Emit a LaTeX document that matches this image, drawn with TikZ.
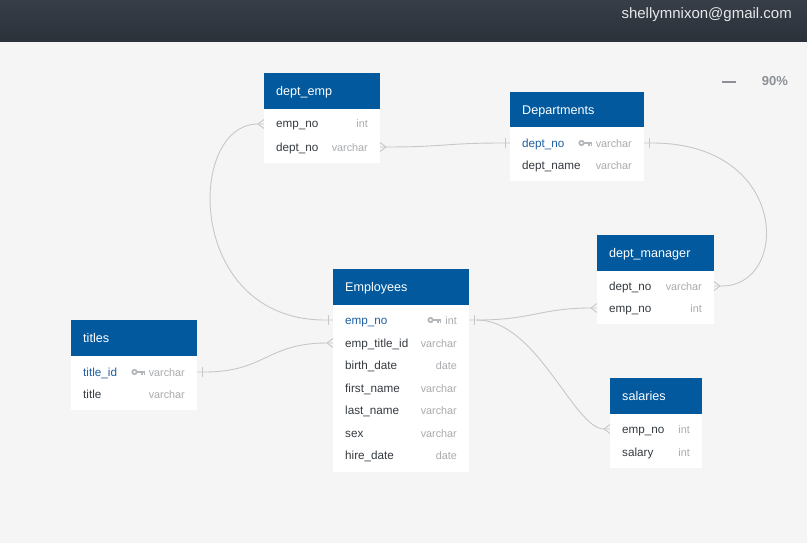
\documentclass[tikz,border=0pt]{standalone}
\usepackage{fontspec}
\setmainfont{Liberation Sans}
\usetikzlibrary{calc}
\definecolor{bg}{HTML}{F4F5F4}
\definecolor{barA}{HTML}{373E48}
\definecolor{barB}{HTML}{2B3139}
\definecolor{hdr}{HTML}{02599E}
\definecolor{fldc}{HTML}{343A40}
\definecolor{typc}{HTML}{A8ABAE}
\definecolor{pkc}{HTML}{1D5FA3}
\definecolor{linec}{HTML}{C6C8C8}
\definecolor{keyc}{HTML}{B4B7BA}
\definecolor{zoomc}{HTML}{8C9096}
\definecolor{mailc}{HTML}{E6E8EA}
\begin{document}
\begin{tikzpicture}[x=1pt,y=-1pt,
 hdrbox/.style={fill=hdr, anchor=north west, inner sep=0pt, outer sep=0pt},
 bodybox/.style={fill=white, anchor=north west, inner sep=0pt, outer sep=0pt},
 htext/.style={text=white, anchor=west, inner sep=0pt, text height=10, text depth=0.4, font=\fontsize{12.6}{14}\selectfont},
 fld/.style={text=fldc, anchor=west, inner sep=0pt, text height=8.4, text depth=0.4, font=\fontsize{11.7}{13}\selectfont},
 pk/.style={fld, text=pkc},
 typ/.style={text=typc, anchor=east, inner sep=0pt, text height=8.4, text depth=0.4, font=\fontsize{10.8}{12}\selectfont},
 conn/.style={draw=linec, line width=0.9pt},
 barR/.pic={\draw[conn] (5,-5) -- (5,5);},
 barL/.pic={\draw[conn] (-5,-5) -- (-5,5);},
 crowL/.pic={\draw[conn] (0,-4.5) -- (-6,0) -- (0,4.5);},
 crowR/.pic={\draw[conn] (0,-4.5) -- (6,0) -- (0,4.5);},
 keyicon/.pic={\draw[keyc, line width=1.7pt] (0,0) circle (2.2);
   \fill[keyc] (2.8,-1.0) rectangle (10.5,1.0);
   \fill[keyc] (6.8,0.5) rectangle (8.2,3.0);
   \fill[keyc] (9.1,0.5) rectangle (10.5,2.6);},
]
\useasboundingbox (0,0) rectangle (807,543);
\fill[bg] (0,0) rectangle (807,543);
\shade[top color=barA, bottom color=barB] (0,0) rectangle (807,42);
\node[anchor=east, inner sep=0pt, text=mailc, font=\fontsize{15}{16}\selectfont] (email) at (792,15) {shellymnixon@gmail.com};
\draw[zoomc, line width=2pt] (722,82) -- (736,82);
\node[anchor=center, inner sep=0pt, text=zoomc, font=\fontsize{13}{14}\selectfont\bfseries] (zoom) at (775,81.5) {90\%};

% dept_emp
\node[hdrbox, minimum width=116, minimum height=36] (deh) at (264,73) {};
\node[bodybox, minimum width=116, minimum height=54] (deb) at (264,109) {};
\node[htext] (det) at (276,91) {dept\_emp};
\node[fld] (de1) at (276,124) {emp\_no};
\node[typ] (de1t) at (368,124) {int};
\node[fld] (de2) at (276,147) {dept\_no};
\node[typ] (de2t) at (368,147) {varchar};

% Departments
\node[hdrbox, minimum width=134, minimum height=35] (dph) at (510,92) {};
\node[bodybox, minimum width=134, minimum height=54] (dpb) at (510,127) {};
\node[htext] (dpt) at (522,109.5) {Departments};
\node[pk] (dp1) at (522,143) {dept\_no};
\pic at (581.5,143) {keyicon};
\node[typ] (dp1t) at (632,143) {varchar};
\node[fld] (dp2) at (522,165) {dept\_name};
\node[typ] (dp2t) at (632,165) {varchar};

% dept_manager
\node[hdrbox, minimum width=117, minimum height=36] (dmh) at (597,235) {};
\node[bodybox, minimum width=117, minimum height=53] (dmb) at (597,271) {};
\node[htext] (dmt) at (609,253) {dept\_manager};
\node[fld] (dm1) at (609,286) {dept\_no};
\node[typ] (dm1t) at (702,286) {varchar};
\node[fld] (dm2) at (609,308) {emp\_no};
\node[typ] (dm2t) at (702,308) {int};

% Employees
\node[hdrbox, minimum width=136, minimum height=36] (emh) at (333,269) {};
\node[bodybox, minimum width=136, minimum height=167] (emb) at (333,305) {};
\node[htext] (emt) at (345,287) {Employees};
\node[pk] (em1) at (345,320) {emp\_no};
\pic at (430.5,320) {keyicon};
\node[typ] (em1t) at (457,320) {int};
\node[fld] (em2) at (345,343) {emp\_title\_id};
\node[typ] (em2t) at (457,343) {varchar};
\node[fld] (em3) at (345,365) {birth\_date};
\node[typ] (em3t) at (457,365) {date};
\node[fld] (em4) at (345,388) {first\_name};
\node[typ] (em4t) at (457,388) {varchar};
\node[fld] (em5) at (345,410) {last\_name};
\node[typ] (em5t) at (457,410) {varchar};
\node[fld] (em6) at (345,433) {sex};
\node[typ] (em6t) at (457,433) {varchar};
\node[fld] (em7) at (345,455) {hire\_date};
\node[typ] (em7t) at (457,455) {date};

% titles
\node[hdrbox, minimum width=126, minimum height=36] (tih) at (71,320) {};
\node[bodybox, minimum width=126, minimum height=54] (tib) at (71,356) {};
\node[htext] (tit) at (83,338) {titles};
\node[pk] (ti1) at (83,372) {title\_id};
\pic at (134.5,372) {keyicon};
\node[typ] (ti1t) at (185,372) {varchar};
\node[fld] (ti2) at (83,394) {title};
\node[typ] (ti2t) at (185,394) {varchar};

% salaries
\node[hdrbox, minimum width=92, minimum height=36] (sah) at (610,378) {};
\node[bodybox, minimum width=92, minimum height=54] (sab) at (610,414) {};
\node[htext] (sat) at (622,396) {salaries};
\node[fld] (sa1) at (622,429) {emp\_no};
\node[typ] (sa1t) at (690,429) {int};
\node[fld] (sa2) at (622,452) {salary};
\node[typ] (sa2t) at (690,452) {int};

% connector end points
\coordinate (pDEemp) at (deb.west |- de1);
\coordinate (pDEdept) at (deb.east |- de2);
\coordinate (pDPl) at (dpb.west |- dp1);
\coordinate (pDPr) at (dpb.east |- dp1);
\coordinate (pDMdept) at (dmb.east |- dm1);
\coordinate (pDMemp) at (dmb.west |- dm2);
\coordinate (pEMl) at (emb.west |- em1);
\coordinate (pEMr) at (emb.east |- em1);
\coordinate (pEMtitle) at (emb.west |- em2);
\coordinate (pTI) at (tib.east |- ti1);
\coordinate (pSA) at (sab.west |- sa1);

% connectors
\draw[conn] (pDEemp) -- ++(-6,0) .. controls +(-72,0) and +(-140,0) .. ($(pEMl)+(-8,0)$) -- (pEMl);
\pic at (pDEemp) {crowL};
\pic at (pEMl) {barL};

\draw[conn] (pDEdept) -- ++(6,0) .. controls +(60,0) and +(-60,0) .. ($(pDPl)+(-6,0)$) -- (pDPl);
\pic at (pDEdept) {crowR};
\pic at (pDPl) {barL};

\draw[conn] (pDPr) -- ++(8,0) .. controls +(138,0) and +(68,0) .. ($(pDMdept)+(8,0)$) -- (pDMdept);
\pic at (pDPr) {barR};
\pic at (pDMdept) {crowR};

\draw[conn] (pEMr) -- ++(8,0) .. controls +(55,0) and +(-50,0) .. ($(pDMemp)+(-6,0)$) -- (pDMemp);
\pic at (pEMr) {barR};
\pic at (pDMemp) {crowL};

\draw[conn] ($(pEMr)+(8,0)$) .. controls +(60,0) and +(-30,0) .. ($(pSA)+(-6,0)$) -- (pSA);
\pic at (pSA) {crowL};

\draw[conn] (pTI) -- ++(8,0) .. controls +(60,0) and +(-60,0) .. ($(pEMtitle)+(-6,0)$) -- (pEMtitle);
\pic at (pTI) {barR};
\pic at (pEMtitle) {crowL};
\end{tikzpicture}
\end{document}
